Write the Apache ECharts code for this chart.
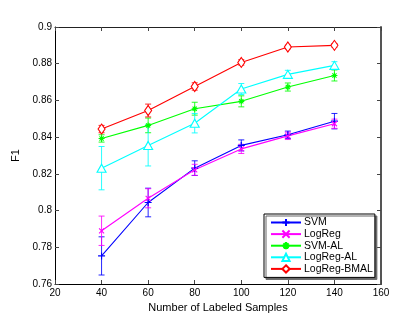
<!DOCTYPE html>
<html><head><meta charset="utf-8">
<script src="https://cdn.jsdelivr.net/npm/echarts@6/dist/echarts.min.js"></script>
<style>html,body{margin:0;padding:0;background:#fff}#c{width:418px;height:332px}</style>
</head><body><div id="c"></div>
<script>
const samples = [40, 60, 80, 100, 120, 140];
const xTicks = [20, 40, 60, 80, 100, 120, 140, 160];
const yTicks = [0.76, 0.78, 0.8, 0.82, 0.84, 0.86, 0.88, 0.9];

const seriesNames = ['SVM', 'LogReg', 'SVM-AL', 'LogReg-AL', 'LogReg-BMAL'];
const svm        = [0.7753, 0.8044, 0.8231, 0.8355, 0.8413, 0.8487];
const svmErr     = [0.0104, 0.0078, 0.0040, 0.0030, 0.0020, 0.0042];
const logreg     = [0.7890, 0.8067, 0.8222, 0.8336, 0.8407, 0.8473];
const logregErr  = [0.0080, 0.0052, 0.0030, 0.0025, 0.0020, 0.0025];
const svmAl      = [0.8393, 0.8464, 0.8555, 0.8595, 0.8673, 0.8736];
const svmAlErr   = [0.0020, 0.0040, 0.0035, 0.0030, 0.0022, 0.0030];
const lrAl       = [0.8231, 0.8355, 0.8476, 0.8662, 0.8742, 0.8791];
const lrAlErr    = [0.0118, 0.0112, 0.0053, 0.0030, 0.0022, 0.0020];
const lrBmal     = [0.8444, 0.8545, 0.8676, 0.8807, 0.8891, 0.8900];
const lrBmalErr  = [0.0020, 0.0035, 0.0020, 0.0015, 0.0010, 0.0010];

const values = [svm, logreg, svmAl, lrAl, lrBmal];
const errors = [svmErr, logregErr, svmAlErr, lrAlErr, lrBmalErr];
const colors = ['#0000ff', '#ff00ff', '#00ff00', '#00ffff', '#ff0000'];
const fills  = ['#0000ff', '#ff00ff', '#00ff00', '#ffffff', '#ffffff'];
const symbols = [
  'path://M0,5L10,5M5,0L5,10',
  'path://M0,0L10,10M10,0L0,10',
  'path://M0,5L10,5M5,0L5,10M1.5,1.5L8.5,8.5M8.5,1.5L1.5,8.5',
  'path://M5,0L10,9L0,9Z',
  'path://M5,0L10,7L5,14L0,7Z'
];
const symbolSizes = [7, 5, 6, [9, 8], [7, 10]];

function errRender(color) {
  return function (params, api) {
    const x = api.value(0), y = api.value(1), e = api.value(2);
    const top = api.coord([x, y + e]), bot = api.coord([x, y - e]);
    const w = 3;
    const style = { stroke: color, lineWidth: 1, opacity: 0.85 };
    return { type: 'group', children: [
      { type: 'line', shape: { x1: top[0], y1: top[1], x2: bot[0], y2: bot[1] }, style: style },
      { type: 'line', shape: { x1: top[0] - w, y1: top[1], x2: top[0] + w, y2: top[1] }, style: style },
      { type: 'line', shape: { x1: bot[0] - w, y1: bot[1], x2: bot[0] + w, y2: bot[1] }, style: style }
    ]};
  };
}

const series = [];
seriesNames.forEach(function (name, k) {
  series.push({
    type: 'custom', name: name + ' err', silent: true, z: 2,
    renderItem: errRender(colors[k]),
    encode: { x: 0, y: 1 },
    data: samples.map(function (x, i) { return [x, values[k][i], errors[k][i]]; })
  });
});
seriesNames.forEach(function (name, k) {
  series.push({
    type: 'line', name: name, z: 3,
    data: samples.map(function (x, i) { return [x, values[k][i]]; }),
    symbol: symbols[k], symbolSize: symbolSizes[k], showSymbol: true,
    lineStyle: { color: colors[k], width: 1.1 },
    itemStyle: { color: fills[k], borderColor: colors[k], borderWidth: 1.1 },
    emphasis: { disabled: true }
  });
});

const tickStyle = { show: true, inside: true, length: 4, lineStyle: { color: '#444' } };
const fmt = function (v) { return String(parseFloat(v.toFixed(2))); };

const chart = echarts.init(document.getElementById('c'), null, { renderer: 'canvas' });
chart.setOption({
  animation: false,
  backgroundColor: '#fff',
  textStyle: { fontFamily: 'Liberation Sans, Arial, sans-serif' },
  grid: { left: 55, right: 37, top: 27, bottom: 48, containLabel: false },
  legend: {
    data: seriesNames,
    orient: 'vertical', left: 264, top: 214,
    itemWidth: 30, itemHeight: 9, itemGap: 0.6,
    padding: [3, 2, 3, 6],
    backgroundColor: '#fff', borderColor: '#000', borderWidth: 1,
    shadowColor: '#666', shadowOffsetX: 2, shadowOffsetY: 2, shadowBlur: 0.01,
    textStyle: { fontSize: 10.5, color: '#000', padding: [0, 0, 0, -2] }
  },
  xAxis: [{
    type: 'value', min: 20, max: 160, interval: 20,
    name: 'Number of Labeled Samples', nameLocation: 'middle', nameGap: 15,
    nameTextStyle: { fontSize: 11, color: '#000' },
    axisLine: { show: true, lineStyle: { color: '#000', width: 1 } },
    axisTick: tickStyle,
    axisLabel: { fontSize: 10, color: '#000', margin: 4 },
    splitLine: { show: false }
  }, {
    type: 'value', min: 20, max: 160, interval: 20, position: 'top',
    axisLine: { show: true, lineStyle: { color: '#222', width: 1 } },
    axisTick: tickStyle, axisLabel: { show: false }, splitLine: { show: false }
  }],
  yAxis: [{
    type: 'value', min: 0.76, max: 0.9, interval: 0.02,
    name: 'F1', nameLocation: 'middle', nameGap: 29, nameRotate: 90,
    nameTextStyle: { fontSize: 11, color: '#000' },
    axisLine: { show: true, lineStyle: { color: '#000', width: 1 } },
    axisTick: tickStyle,
    axisLabel: { fontSize: 10, color: '#000', margin: 3, formatter: fmt },
    splitLine: { show: false }
  }, {
    type: 'value', min: 0.76, max: 0.9, interval: 0.02, position: 'right',
    axisLine: { show: true, lineStyle: { color: '#555', width: 2 } },
    axisTick: tickStyle, axisLabel: { show: false }, splitLine: { show: false }
  }],
  series: series
});
</script></body></html>
